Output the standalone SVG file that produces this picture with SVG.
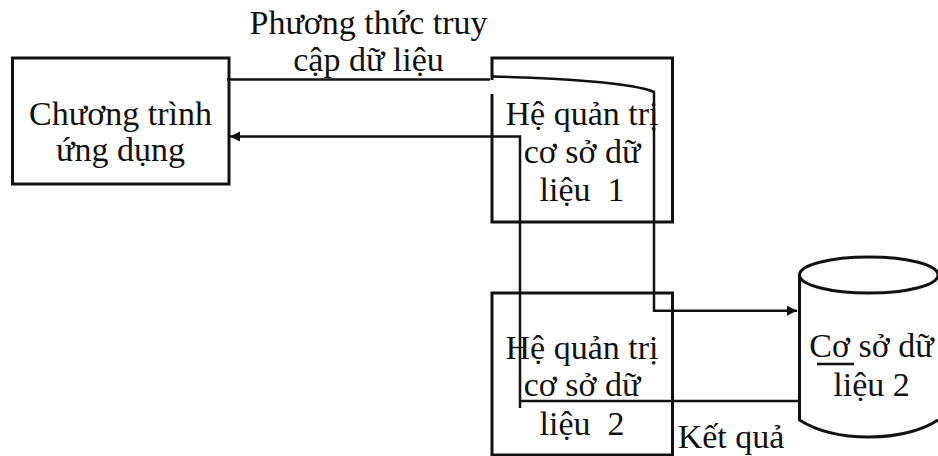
<svg xmlns="http://www.w3.org/2000/svg" width="938" height="456" viewBox="0 0 938 456">
<style>
text{font-family:"Liberation Serif","Times New Roman",serif;font-size:34px;fill:#111;text-anchor:middle;white-space:pre}
.b{fill:none;stroke:#111;stroke-width:3}
.c{fill:none;stroke:#111;stroke-width:2.5}
</style>
<defs><marker id="a" markerUnits="userSpaceOnUse" markerWidth="12" markerHeight="12" refX="10" refY="5" orient="auto"><path d="M0 0L10 5L0 10Z" fill="#111"/></marker></defs>
<rect width="938" height="456" fill="#fff"/>
<g id="app"><rect class="b" x="12.5" y="58" width="216.5" height="126"/><text x="120.500" y="125">Chương trình</text><text x="120.500" y="161">ứng dụng</text></g>
<g id="dbms1"><rect class="b" x="492" y="58" width="180.500" height="164"/><path d="M492 80V94" stroke="#fff" stroke-width="4"/><text x="582" y="125">Hệ quản trị</text><text x="582" y="163">cơ sở dữ</text><text x="582" y="201">liệu  1</text></g>
<g id="dbms2"><rect class="b" x="492" y="293" width="180.500" height="162"/><text x="582" y="359">Hệ quản trị</text><text x="582" y="396">cơ sở dữ</text><text x="582" y="435">liệu  2</text></g>
<g id="db2"><path class="b" d="M799.500 275V420C812 428 835 437 869 437C903 437 926 428 938 420M799.500 275C799.500 265 830 257 869 257C908 257 938 265 938 275C938 285 908 293 869 293C830 293 799.500 285 799.500 275Z"/><text x="871.500" y="357">Cơ sở dữ</text><text x="871.500" y="396">liệu 2</text><path d="M817 364H854" stroke="#111" stroke-width="2.500"/></g>
<g id="connectors">
<path class="c" d="M227 79.500H490"/>
<path class="c" d="M492 76.500C560 78 635 83 654 92V310.700H797" marker-end="url(#a)"/>
<path class="c" d="M520 408V136.500H230" marker-end="url(#a)"/>
<path class="c" d="M520 401H799"/>
</g>
<g id="labels"><text x="368.500" y="34">Phương thức truy</text><text x="368.500" y="71">cập dữ liệu</text><text x="731" y="448">Kết quả</text></g>
</svg>
